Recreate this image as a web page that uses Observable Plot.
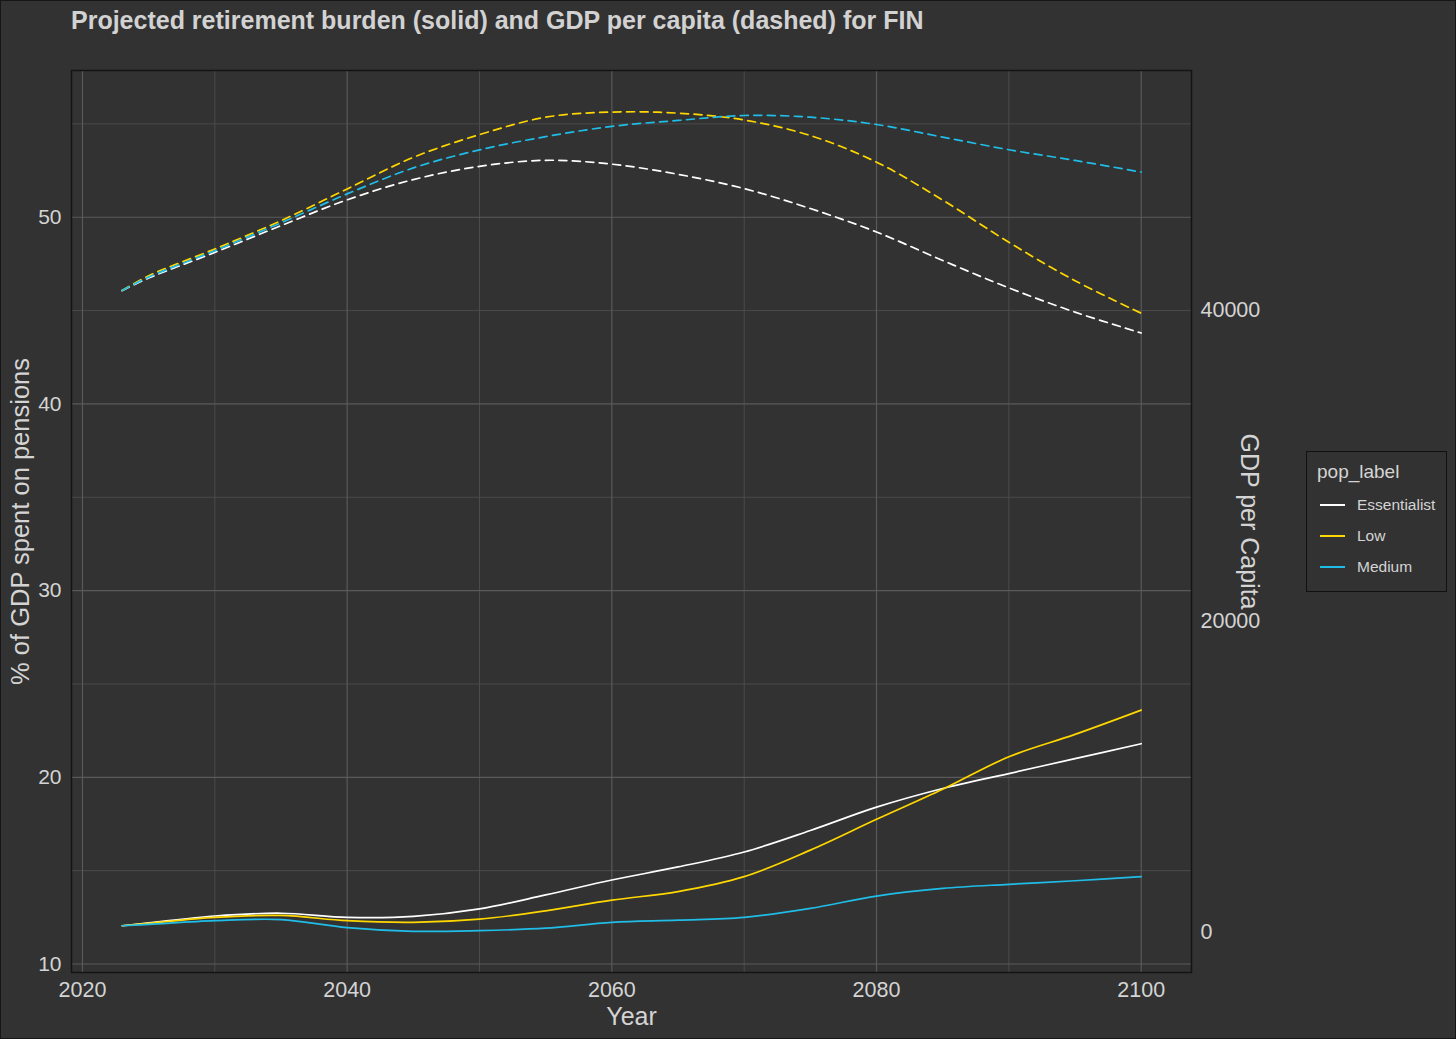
<!DOCTYPE html>
<html><head><meta charset="utf-8">
<script src="https://cdn.jsdelivr.net/npm/d3@7"></script>
<script src="https://cdn.jsdelivr.net/npm/@observablehq/plot@0.6"></script>
<style>
html,body{margin:0;padding:0;background:#323232;}
#wrap{position:relative;width:1456px;height:1039px;overflow:hidden;font-family:"Liberation Sans",Arial,Helvetica,sans-serif;background:#323232;}
#edge{position:absolute;left:0;top:0;width:1456px;height:1039px;box-sizing:border-box;border:1.5px solid #161616;pointer-events:none;}
#title{position:absolute;left:71px;top:5px;font-size:25px;line-height:30px;font-weight:bold;color:#d2d2d2;white-space:nowrap;}
#legend{position:absolute;left:1306px;top:451px;width:141px;height:141px;border:1.5px solid #111;box-sizing:border-box;color:#d4d4d4;}
#legend .lt{position:absolute;left:10px;top:8px;font-size:19px;line-height:24px;white-space:nowrap;}
#legend .it{position:absolute;left:13px;height:20px;width:125px;font-size:15.5px;line-height:20px;}
#legend svg{position:absolute;left:0;top:0;}
#legend .lb{position:absolute;left:37px;top:0;white-space:nowrap;}
</style></head>
<body><div id="wrap"><div id="chart"></div>
<div id="title">Projected retirement burden (solid) and GDP per capita (dashed) for FIN</div>
<div id="legend"></div><div id="edge"></div></div>
<script>
const years = [2023, 2025, 2030, 2035, 2040, 2045, 2050, 2055, 2060, 2065, 2070, 2075, 2080, 2085, 2090, 2095, 2100];
const seriesNames = ["Essentialist", "Low", "Medium"];
const seriesColors = ["#ffffff", "#ffd700", "#1fbde8"];

// % of GDP spent on pensions (solid)
const pensionEssentialist = [12.05, 12.2, 12.57, 12.72, 12.5, 12.55, 12.95, 13.7, 14.5, 15.2, 16.0, 17.15, 18.4, 19.4, 20.2, 21.0, 21.8];
const pensionLow          = [12.05, 12.18, 12.5, 12.6, 12.32, 12.23, 12.4, 12.85, 13.42, 13.88, 14.68, 16.1, 17.75, 19.36, 21.1, 22.3, 23.6];
const pensionMedium       = [12.05, 12.12, 12.32, 12.38, 11.95, 11.75, 11.79, 11.92, 12.23, 12.35, 12.5, 12.98, 13.64, 14.05, 14.27, 14.46, 14.68];

// GDP per capita (dashed)
const gdpEssentialist = [41250, 42050, 43700, 45420, 47080, 48380, 49230, 49620, 49370, 48720, 47800, 46520, 45010, 43180, 41420, 39860, 38520];
const gdpLow          = [41250, 42200, 43920, 45740, 47780, 49810, 51270, 52390, 52720, 52650, 52210, 51210, 49500, 47060, 44350, 41880, 39790];
const gdpMedium       = [41250, 42110, 43810, 45600, 47460, 49130, 50290, 51140, 51800, 52180, 52500, 52390, 51920, 51110, 50300, 49610, 48860];

const leftTicks = [10, 20, 30, 40, 50];
const leftMinor = [15, 25, 35, 45, 55];
const rightTicks = [0, 20000, 40000];
const xTicks = [2020, 2040, 2060, 2080, 2100];
const xMinor = [2030, 2050, 2070, 2090];

const GDP_OFFSET = 11.7, GDP_SCALE = 1200;
const toLeft = g => GDP_OFFSET + g / GDP_SCALE;

const pensions = [pensionEssentialist, pensionLow, pensionMedium];
const gdps = [gdpEssentialist, gdpLow, gdpMedium];
const rows = [];
seriesNames.forEach((s, i) => years.forEach((yr, j) => rows.push({year: yr, series: s, pension: pensions[i][j], gdp: gdps[i][j]})));

const txt = "#d4d4d4";
const plot = Plot.plot({
  width: 1456, height: 1039,
  marginLeft: 71, marginRight: 265, marginTop: 70, marginBottom: 67,
  style: {background: "#323232", color: txt, fontFamily: "'Liberation Sans', Arial, Helvetica, sans-serif", fontSize: "21px"},
  x: {domain: [2019.17, 2103.8], axis: null},
  y: {domain: [9.545, 57.86], axis: null},
  color: {domain: seriesNames, range: seriesColors},
  marks: [
    Plot.ruleX(xMinor, {stroke: "#4e4e4e", strokeWidth: 0.9}),
    Plot.ruleY(leftMinor, {stroke: "#4e4e4e", strokeWidth: 0.9}),
    Plot.ruleX(xTicks, {stroke: "#5a5a5a", strokeWidth: 1.2}),
    Plot.ruleY(leftTicks, {stroke: "#5a5a5a", strokeWidth: 1.2}),
    Plot.frame({stroke: "#141414", strokeWidth: 1.5}),
    Plot.axisX({ticks: xTicks, tickSize: 0, tickPadding: 9, tickFormat: d => String(d), label: null, fontSize: 21.5}),
    Plot.axisY({ticks: leftTicks, anchor: "left", tickSize: 0, tickPadding: 10, label: null, fontSize: 21}),
    Plot.axisY({ticks: rightTicks.map(toLeft), anchor: "right", tickSize: 0, tickPadding: 9, label: null, fontSize: 21.5,
      tickFormat: v => String(Math.round((v - GDP_OFFSET) * GDP_SCALE))}),
    Plot.line(rows, {x: "year", y: d => toLeft(d.gdp), z: "series", stroke: "series", strokeWidth: 1.7, strokeDasharray: "8,5.5", curve: "catmull-rom"}),
    Plot.line(rows, {x: "year", y: "pension", z: "series", stroke: "series", strokeWidth: 1.7, curve: "catmull-rom"}),
    Plot.text(["Year"], {frameAnchor: "bottom", dy: 44, lineAnchor: "middle", textAnchor: "middle", text: d => d, fontSize: 25, fill: txt}),
    Plot.text(["% of GDP spent on pensions"], {frameAnchor: "left", dx: -51, rotate: -90, lineAnchor: "middle", textAnchor: "middle", text: d => d, fontSize: 25.5, fill: txt}),
    Plot.text(["GDP per Capita"], {frameAnchor: "right", dx: 57, rotate: 90, lineAnchor: "middle", textAnchor: "middle", text: d => d, fontSize: 25, fill: txt})
  ]
});
document.getElementById("chart").appendChild(plot);

const legend = document.getElementById("legend");
const lt = document.createElement("div"); lt.className = "lt"; lt.textContent = "pop_label"; legend.appendChild(lt);
const itemTops = [43, 74, 105];
const NS = "http://www.w3.org/2000/svg";
seriesNames.forEach((s, i) => {
  const it = document.createElement("div"); it.className = "it"; it.style.top = itemTops[i] + "px";
  const sv = document.createElementNS(NS, "svg"); sv.setAttribute("width", "26"); sv.setAttribute("height", "20");
  const ln = document.createElementNS(NS, "line");
  ln.setAttribute("x1", "0"); ln.setAttribute("x2", "25"); ln.setAttribute("y1", "10"); ln.setAttribute("y2", "10");
  ln.setAttribute("stroke", seriesColors[i]); ln.setAttribute("stroke-width", "2");
  sv.appendChild(ln);
  const lb = document.createElement("div"); lb.className = "lb"; lb.textContent = s;
  it.appendChild(sv); it.appendChild(lb); legend.appendChild(it);
});
</script>
</body></html>
